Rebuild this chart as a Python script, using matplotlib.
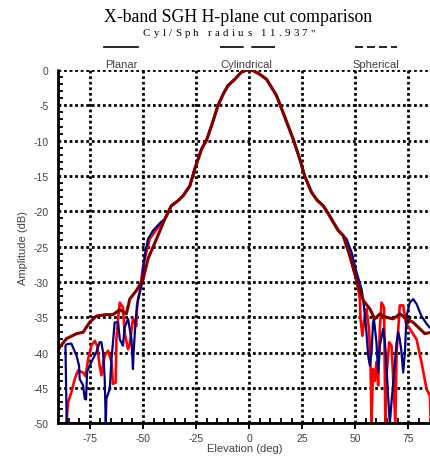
import matplotlib
matplotlib.use("Agg")
from matplotlib import pyplot as plt
from matplotlib.lines import Line2D
from matplotlib.ticker import MultipleLocator
from matplotlib.font_manager import FontProperties

plt.rcParams["axes.unicode_minus"] = False

# main lobe, shared by the three measurements
beam_deg = [-39.7, -36.6, -33.5, -31.1, -27.9, -25.6, -22.4, -20.0, -17.7, -14.6,
            -12.0, -9.9, -6.7, -3.6, -1.0, 0.0, 1.9, 4.5, 8.2, 12.9,
            16.0, 20.8, 23.9, 26.2, 29.4, 32.0, 34.9, 37.3, 39.6, 42.0]
beam_db = [-21.1, -19.2, -18.5, -17.8, -16.4, -14.0, -11.2, -9.9, -7.9, -5.0,
           -3.3, -2.2, -1.3, -0.3, 0.0, 0.0, -0.1, -0.5, -1.3, -3.6,
           -6.0, -9.8, -12.6, -15.0, -17.3, -18.4, -19.2, -20.3, -21.5, -22.7]

# Planar (red)
planar_left_deg = [-86.0, -85.3, -83.7, -82.1, -80.6, -78.2, -77.0, -75.8, -74.3, -72.7,
                   -71.6, -70.4, -69.6, -68.0, -66.4, -64.8, -64.1, -62.8, -62.5, -61.7,
                   -60.9, -59.4, -58.6, -57.0, -56.2, -54.7, -53.1, -52.8, -51.5, -49.9,
                   -48.4, -46.8, -43.5]
planar_left_db = [-50.0, -47.0, -45.6, -43.7, -42.5, -42.8, -43.3, -40.9, -39.0, -38.3,
                  -39.0, -41.8, -43.2, -40.4, -39.7, -41.3, -44.4, -44.2, -38.1, -35.2,
                  -32.9, -33.6, -37.2, -39.5, -38.8, -35.2, -36.2, -33.3, -31.4, -27.7,
                  -25.8, -23.9, -22.5]
planar_right_deg = [44.3, 47.5, 50.6, 52.2, 52.5, 53.4, 54.5, 55.3, 56.5, 57.2,
                    57.7, 58.4, 59.2, 60.0, 60.8, 61.6, 62.4, 63.6, 64.2, 64.7,
                    66.0, 67.1, 67.9, 68.9, 69.5, 70.3, 71.0, 72.6, 73.8, 75.7,
                    78.9, 81.2, 83.6, 85.2, 85.6]
planar_right_db = [-23.4, -26.3, -29.6, -32.4, -35.2, -37.6, -34.8, -33.8, -36.6, -41.3,
                   -50.0, -42.3, -44.0, -41.3, -44.6, -36.6, -32.9, -33.6, -50.0, -43.3,
                   -38.5, -39.0, -43.7, -50.0, -39.9, -36.6, -33.3, -33.3, -35.7, -36.6,
                   -38.1, -41.3, -45.1, -46.1, -50.0]

# Cylindrical (blue)
cyl_left_deg = [-85.9, -86.5, -86.0, -83.7, -81.3, -80.1, -79.8, -78.2, -77.4, -76.8,
                -76.3, -74.3, -71.9, -70.4, -69.6, -68.8, -68.0, -67.5, -67.2, -65.6,
                -64.8, -63.3, -61.7, -60.9, -59.4, -58.6, -57.0, -55.4, -54.7, -54.4,
                -53.4, -52.3, -50.7, -49.2, -47.6, -45.2, -41.5]
cyl_left_db = [-50.0, -39.0, -38.8, -38.7, -40.4, -41.8, -43.7, -44.6, -46.5, -46.6,
               -42.7, -41.3, -39.9, -38.5, -38.5, -39.9, -43.7, -50.0, -46.5, -45.1,
               -40.9, -35.7, -35.7, -38.1, -39.0, -36.4, -35.2, -38.1, -42.3, -40.0,
               -35.2, -32.4, -30.5, -26.3, -23.9, -22.7, -21.5]
cyl_right_deg = [44.3, 45.9, 48.3, 50.6, 53.0, 53.7, 54.5, 55.3, 56.1, 56.9,
                 57.7, 58.4, 58.8, 60.0, 60.8, 61.6, 63.2, 64.0, 64.7, 65.5,
                 66.3, 67.1, 67.9, 68.7, 69.5, 70.3, 71.0, 71.8, 72.6, 73.4,
                 74.2, 75.7, 77.3, 78.9, 81.2, 83.6, 85.6]
cyl_right_db = [-23.4, -23.9, -25.8, -28.6, -31.0, -32.4, -34.5, -37.1, -40.4, -41.8,
                -39.9, -35.7, -35.2, -38.5, -42.8, -39.0, -36.6, -38.5, -41.8, -46.1,
                -50.0, -47.0, -44.2, -41.3, -38.5, -37.1, -38.1, -39.9, -42.8, -39.9,
                -34.8, -32.9, -32.4, -33.1, -34.8, -35.9, -36.6]

# Spherical (dark red)
sph_left_deg = [-89.8, -89.2, -86.0, -81.3, -78.2, -75.1, -71.9, -67.2, -64.1, -60.9,
                -57.8, -56.2, -53.1, -49.9, -47.6, -43.6]
sph_left_db = [-39.6, -39.2, -38.0, -37.3, -37.1, -35.7, -34.8, -34.6, -34.6, -33.9,
               -34.5, -32.4, -31.2, -29.6, -26.7, -23.9]
sph_right_deg = [44.3, 47.5, 49.1, 51.4, 53.8, 56.9, 59.2, 61.6, 64.7, 67.9,
                 71.0, 74.2, 77.3, 80.4, 82.8, 85.6]
sph_right_db = [-23.4, -26.3, -28.1, -30.5, -32.6, -33.8, -35.2, -34.5, -35.0, -35.2,
                -34.5, -35.2, -35.7, -36.6, -37.3, -37.1]

labels = ["Planar", "Cylindrical", "Spherical"]
x_ticks = [-75, -50, -25, 0, 25, 50, 75]
y_ticks = [0, -5, -10, -15, -20, -25, -30, -35, -40, -45, -50]

gray = "#404040"
fig = plt.figure(figsize=(4.31, 4.60), dpi=100)
ax = fig.add_axes([0.1346, 0.0772, 0.8654, 0.7685])

ax.plot(planar_left_deg + beam_deg + planar_right_deg,
        planar_left_db + beam_db + planar_right_db, color="#ff0000", lw=1.9)
ax.plot(cyl_left_deg + beam_deg + cyl_right_deg,
        cyl_left_db + beam_db + cyl_right_db, color="#000080", lw=1.6)
ax.plot(sph_left_deg + beam_deg + sph_right_deg,
        sph_left_db + beam_db + sph_right_db, color="#800000", lw=2.2)

ax.set_xlim(-90, 85.7)
ax.set_ylim(-50, 0)
ax.set_xticks(x_ticks)
ax.set_yticks(y_ticks)
ax.xaxis.set_minor_locator(MultipleLocator(5))
ax.yaxis.set_minor_locator(MultipleLocator(1))
ax.grid(True, which="major", color="black", linestyle=(0, (1, 1)), lw=2)
ax.tick_params(which="both", color="black", labelcolor=gray, labelsize=7.5,
               top=False, right=False)
ax.tick_params(axis="x", which="major", direction="out", length=4, width=1.4, pad=3)
ax.tick_params(axis="y", which="major", direction="in", length=0, width=0, pad=7)
ax.tick_params(which="minor", direction="in", length=3.6, width=1.3)
for s in ["top", "right"]:
    ax.spines[s].set_visible(False)
for s in ["left", "bottom"]:
    ax.spines[s].set_linestyle((0, (1, 1)))
    ax.spines[s].set_linewidth(2)
for lab in ax.get_xticklabels() + ax.get_yticklabels():
    lab.set_family("Liberation Sans")

ax.set_xlabel("Elevation (deg)", family="Liberation Sans", fontsize=8, color=gray, labelpad=0)
ax.set_ylabel("Amplitude (dB)", family="Liberation Sans", fontsize=8, color=gray, labelpad=4)

# title and letter-spaced subtitle
W, H = 431.0, 460.0
fig.text(238 / W, 1 - 17 / H, "X-band SGH H-plane cut comparison", family="Liberation Serif",
         fontsize=12.8, ha="center", va="center")
sub = 'Cyl/Sph radius 11.937"'
fp = FontProperties(family="Liberation Serif", size=7.8)
fig.canvas.draw()
r = fig.canvas.get_renderer()
ref_w = r.get_text_width_height_descent("ll", fp, ismath=False)[0]
widths = [r.get_text_width_height_descent("l" + c + "l", fp, ismath=False)[0] - ref_w for c in sub]
target = 172.0
gap = (target - sum(widths)) / (len(sub) - 1)
x0 = 229 - target / 2
for c, w in zip(sub, widths):
    if c != " ":
        fig.text(x0 / W, 1 - 34 / H, c, fontproperties=fp, ha="left", va="center")
    x0 += w + gap

# legend swatches above the plot
fig.add_artist(Line2D([104 / W, 138 / W], [1 - 48 / H] * 2, color="black", lw=1.2))
fig.add_artist(Line2D([220 / W, 276 / W], [1 - 48 / H] * 2, color="black", lw=1.2,
                      linestyle=(0, (14.2, 4.6))))
fig.add_artist(Line2D([355 / W, 397 / W], [1 - 48 / H] * 2, color="black", lw=1.2,
                      linestyle=(0, (4.8, 2.4))))
for lbl, xc in zip(labels, [121, 246, 376]):
    fig.text(xc / W, 1 - 65 / H, lbl, family="Liberation Sans", fontsize=8,
             color=gray, ha="center", va="center")

fig.savefig("out.png", dpi=100)
plt.close(fig)
